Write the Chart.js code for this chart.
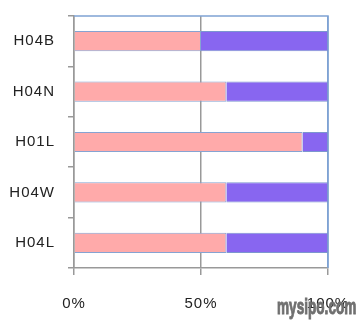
<!DOCTYPE html>
<html>
<head>
<meta charset="utf-8">
<script src="https://cdn.jsdelivr.net/npm/chart.js@4/dist/chart.umd.min.js"></script>
<style>
html,body{margin:0;padding:0;background:#fff;}
#wrap{width:359px;height:323px;}
</style>
</head>
<body>
<div id="wrap"><canvas id="c" width="359" height="323"></canvas></div>
<script>
const categories = ["H04B", "H04N", "H01L", "H04W", "H04L"];
const seriesA = [50, 60, 90, 60, 60];
const seriesB = [50, 40, 10, 40, 40];
const xTicks = [0, 50, 100];

const frame = {
  id: 'frame',
  beforeInit(chart) { chart.ctx.letterSpacing = '1px'; },
  beforeDraw(chart) { chart.ctx.letterSpacing = '1px'; },
  beforeDatasetsDraw(chart) {
    const {ctx, chartArea: a} = chart;
    ctx.save();
    ctx.strokeStyle = '#7fa2d4';
    ctx.lineWidth = 1.5;
    ctx.beginPath();
    ctx.moveTo(a.left, a.top);
    ctx.lineTo(a.right, a.top);
    ctx.lineTo(a.right, a.bottom);
    ctx.stroke();
    ctx.restore();
  },
  afterDraw(chart) {
    const ctx = chart.ctx;
    ctx.save();
    ctx.letterSpacing = '0px';
    ctx.fillStyle = '#707070';
    ctx.strokeStyle = '#707070';
    ctx.lineWidth = 0.9;
    ctx.font = 'bold 20px "Liberation Sans", Arial, sans-serif';
    ctx.textBaseline = 'alphabetic';
    ctx.translate(277, 314);
    ctx.scale(0.68, 1.1);
    ctx.fillText('mysipo.com', 0, 0);
    ctx.strokeText('mysipo.com', 0, 0);
    ctx.restore();
  }
};

new Chart(document.getElementById('c'), {
  type: 'bar',
  data: {
    labels: categories,
    datasets: [
      { data: seriesA, backgroundColor: '#ffaaaa', borderColor: '#86a3d2', borderWidth: 1, barPercentage: 0.4, categoryPercentage: 1 },
      { data: seriesB, backgroundColor: '#8866f0', borderColor: '#7c96cf', borderWidth: 1, barPercentage: 0.4, categoryPercentage: 1 }
    ]
  },
  options: {
    indexAxis: 'y',
    responsive: false,
    animation: false,
    layout: { padding: { left: 0, right: 31, top: 16, bottom: 0 } },
    plugins: { legend: { display: false }, tooltip: { enabled: false } },
    scales: {
      x: {
        stacked: true,
        min: 0, max: 100,
        afterBuildTicks(s) { s.ticks = xTicks.map(v => ({ value: v })); },
        afterFit(s) { s.height = 55; s.paddingLeft = 0; s.paddingRight = 0; },
        border: { display: true, color: '#999', width: 1.5 },
        grid: {
          color: (c) => c.tick && c.tick.value === 100 ? '#7fa2d4' : '#999',
          lineWidth: 1.5,
          drawTicks: true,
          tickLength: 7,
          tickColor: '#999'
        },
        ticks: {
          padding: 20,
          color: '#222',
          font: { family: '"Liberation Sans", Arial, sans-serif', size: 15 },
          callback: (v) => v + '%',
          maxRotation: 0
        }
      },
      y: {
        stacked: true,
        afterFit(s) { s.width = 74; s.paddingTop = 0; s.paddingBottom = 0; },
        border: { display: true, color: '#999', width: 1.5 },
        grid: {
          drawOnChartArea: false,
          drawTicks: true,
          tickLength: 6,
          color: '#999',
          lineWidth: 1.5
        },
        ticks: {
          padding: 13,
          color: '#222',
          font: { family: '"Liberation Sans", Arial, sans-serif', size: 15 }
        }
      }
    }
  },
  plugins: [frame]
});
</script>
</body>
</html>
